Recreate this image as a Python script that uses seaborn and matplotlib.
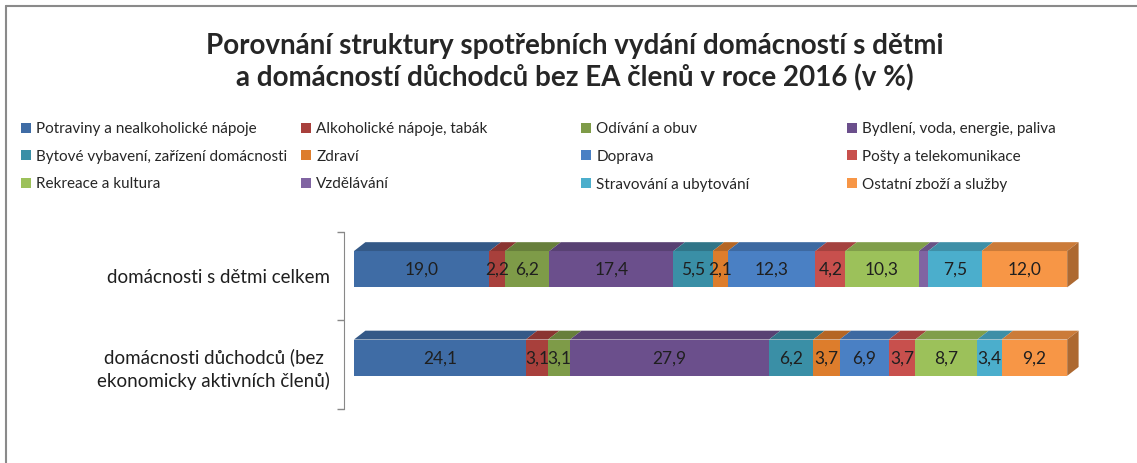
import numpy as np
import pandas as pd
import seaborn as sns
import matplotlib.pyplot as plt
from matplotlib.patches import Patch, Polygon
from matplotlib.lines import Line2D
import matplotlib.colors as mcolors

# Data (in %)
households = ["domácnosti s dětmi celkem",
              "domácnosti důchodců (bez\nekonomicky aktivních členů)"]
categories = ["Potraviny a nealkoholické nápoje", "Alkoholické nápoje, tabák",
              "Odívání a obuv", "Bydlení, voda, energie, paliva",
              "Bytové vybavení, zařízení domácnosti", "Zdraví",
              "Doprava", "Pošty a telekomunikace",
              "Rekreace a kultura", "Vzdělávání",
              "Stravování a ubytování", "Ostatní zboží a služby"]
with_children = [19.0, 2.2, 6.2, 17.4, 5.5, 2.1, 12.3, 4.2, 10.3, 1.3, 7.5, 12.0]
pensioners = [24.1, 3.1, 3.1, 27.9, 6.2, 3.7, 6.9, 3.7, 8.7, 0.0, 3.4, 9.2]

colors = ["#3F6CA5", "#A8403C", "#7E9B48", "#6B4F8C", "#3A8FA6", "#DD7D2C",
          "#4A80C4", "#C8504D", "#9CC15A", "#8064A2", "#4BAECC", "#F79646"]

sns.set_style("white")
plt.rcParams["font.family"] = ["Lato", "DejaVu Sans"]

df = pd.DataFrame({"cat": categories, households[0]: with_children,
                   households[1]: pensioners})
long = df.melt(id_vars="cat", var_name="household", value_name="value")
long["cum"] = long.groupby("household")["value"].cumsum()

fig = plt.figure(figsize=(11.37, 4.63), dpi=100)
ax = fig.add_axes([344 / 1137, 54 / 463, 751 / 1137, 177 / 463])

bar_h = 0.41
# stacked bars: draw cumulative totals from the back
for i in range(len(categories) - 1, -1, -1):
    sub = long[long["cat"] == categories[i]]
    sns.barplot(data=sub, x="cum", y="household", order=households, orient="h",
                color=colors[i], saturation=1, width=bar_h, ax=ax, linewidth=0)

# fake 3D: top faces and end face
dx, dy = 1.6, 0.1
for j, h in enumerate(households):
    sub = long[long["household"] == h].reset_index(drop=True)
    yt = j - bar_h / 2
    for i, row in sub.iterrows():
        if row["value"] <= 0:
            continue
        l, r = row["cum"] - row["value"], row["cum"]
        top = [(l, yt), (r, yt), (r + dx, yt - dy), (l + dx, yt - dy)]
        c = np.array(mcolors.to_rgb(colors[i])) * 0.82
        ax.add_patch(Polygon(top, closed=True, facecolor=c, edgecolor="none"))
        if row["value"] >= 2:
            ax.text((l + r) / 2, j + 0.01, f"{row['value']:.1f}".replace(".", ","),
                    ha="center", va="center", fontsize=12.5, color="#1F1F1F")
    end = sub["cum"].iloc[-1]
    side = [(end, yt), (end + dx, yt - dy), (end + dx, j + bar_h / 2 - dy),
            (end, j + bar_h / 2)]
    c = np.array(mcolors.to_rgb(colors[-1])) * 0.7
    ax.add_patch(Polygon(side, closed=True, facecolor=c, edgecolor="none"))

ax.set_xlim(-1.4, 103.9)
ax.set_ylim(1.58, -0.42)
ax.set_xlabel("")
ax.set_ylabel("")
ax.set_xticks([])
ax.set_yticks([0.08, 1.08])
ax.set_yticklabels(households, fontsize=13.5, multialignment="center",
                   color="#1F1F1F", linespacing=1.35)
ax.set_yticks([-0.42, 0.58, 1.58], minor=True)
ax.tick_params(axis="y", which="major", length=0, pad=10)
ax.tick_params(axis="y", which="minor", length=5, color="#888888", width=1,
               left=True)
for s in ["top", "right", "bottom"]:
    ax.spines[s].set_visible(False)
ax.spines["left"].set_color("#888888")

fig.suptitle("Porovnání struktury spotřebních vydání domácností s dětmi\n"
             "a domácností důchodců bez EA členů v roce 2016 (v %)",
             x=575 / 1137, y=1 - 33 / 463, fontsize=20, fontweight="bold",
             va="top", linespacing=1.25)

# legend in four columns, filled row by row
col_x = [21, 301, 581, 847]
handles = [Patch(facecolor=c, edgecolor="none") for c in colors]
for k, x in enumerate(col_x):
    idx = [k, k + 4, k + 8]
    fig.legend([handles[i] for i in idx], [categories[i] for i in idx],
               loc="upper left", bbox_to_anchor=(x / 1137, 1 - 122 / 463),
               frameon=False, fontsize=11, handlelength=0.65, handleheight=0.65,
               handletextpad=0.35, labelspacing=0.9, borderpad=0,
               borderaxespad=0)

# chart area frame (left and top edges visible)
fig.add_artist(Line2D([6 / 1137, 1], [1 - 6 / 463, 1 - 6 / 463],
                      transform=fig.transFigure, color="#8A8A8A", lw=1.5))
fig.add_artist(Line2D([6 / 1137, 6 / 1137], [0, 1 - 6 / 463],
                      transform=fig.transFigure, color="#8A8A8A", lw=1.5))

fig.savefig("out.png", dpi=100)
